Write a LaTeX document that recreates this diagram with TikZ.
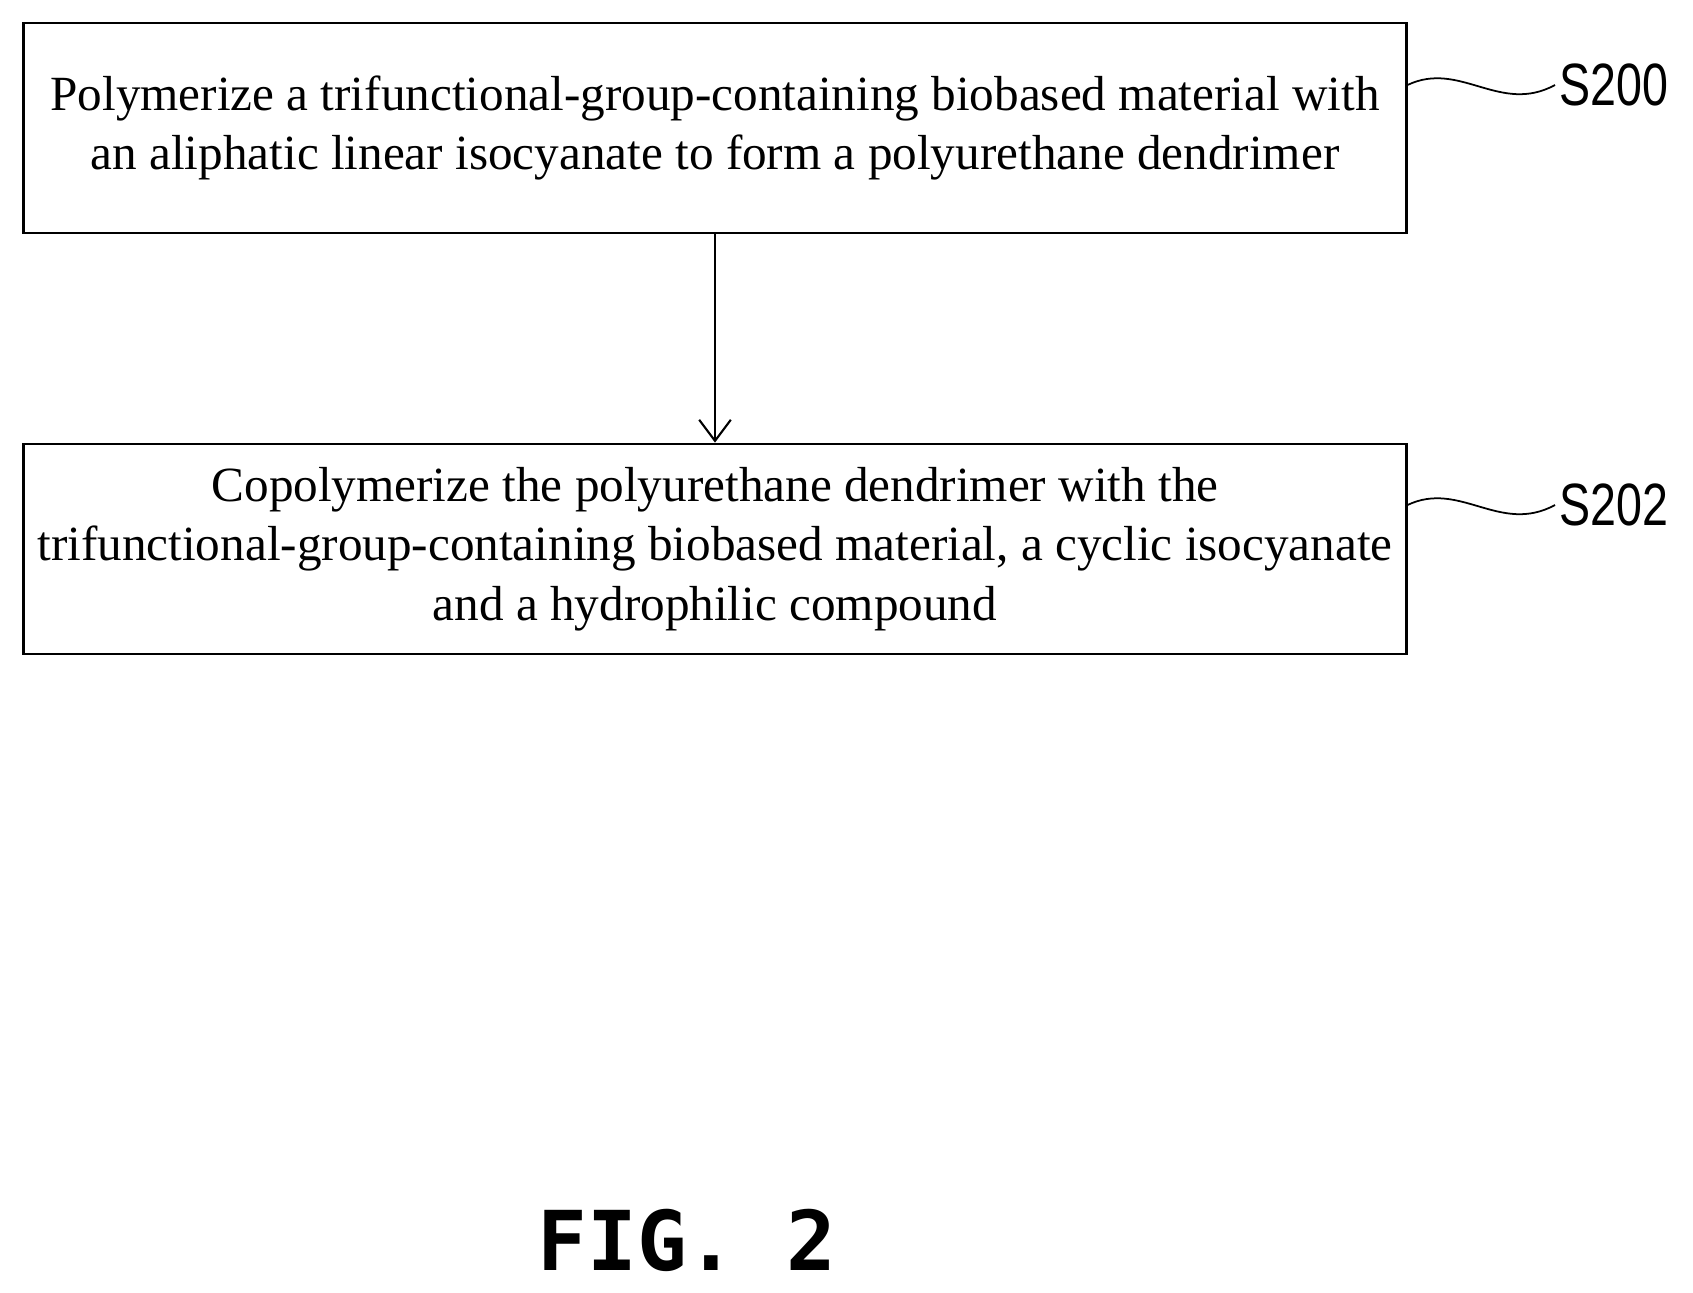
\documentclass[tikz,border=0pt]{standalone}
\usepackage{fontspec}
\setmainfont{Liberation Serif}
\newfontfamily\labelfont{Liberation Sans}
\newfontfamily\figfont{DejaVu Sans Mono}
\usetikzlibrary{positioning,arrows.meta}
\tikzset{
  stepbox/.style={draw, line width=1.6pt, minimum width=27.65cm, minimum height=4.2cm,
    align=center, font=\fontsize{28}{34}\selectfont, inner sep=0pt},
  steplabel/.style={font=\labelfont\fontsize{34}{40}\selectfont, anchor=west, xscale=0.78},
  flow/.style={line width=1.2pt, -{Straight Barb[length=12pt,width=18pt]}},
}
\begin{document}
\begin{tikzpicture}[x=0.02cm,y=-0.02cm]
\useasboundingbox (0,0) rectangle (1693,1293);
% Steps
\node[stepbox] (s200) at (715,128) {Polymerize a trifunctional-group-containing biobased material with\\an aliphatic linear isocyanate to form a polyurethane dendrimer};
\node[stepbox] (s202) at (715,549) {Copolymerize the polyurethane dendrimer with the\\trifunctional-group-containing biobased material, a cyclic isocyanate\\and a hydrophilic compound};
% Labels
\node[steplabel] (l200) at (1555,85) {S200};
\node[steplabel] (l202) at (1555,505) {S202};
\draw[line width=1pt] (s200.east|-l200) .. controls (1460,60) and (1500,115) .. (l200.west);
\draw[line width=1pt] (s202.east|-l202) .. controls (1460,480) and (1500,535) .. (l202.west);
% Flow
\draw[flow] (s200) -- (s202);
\node[font=\figfont\bfseries\fontsize{47}{54}\selectfont] (fig) at (687,1240) {FIG. 2};
\end{tikzpicture}
\end{document}
